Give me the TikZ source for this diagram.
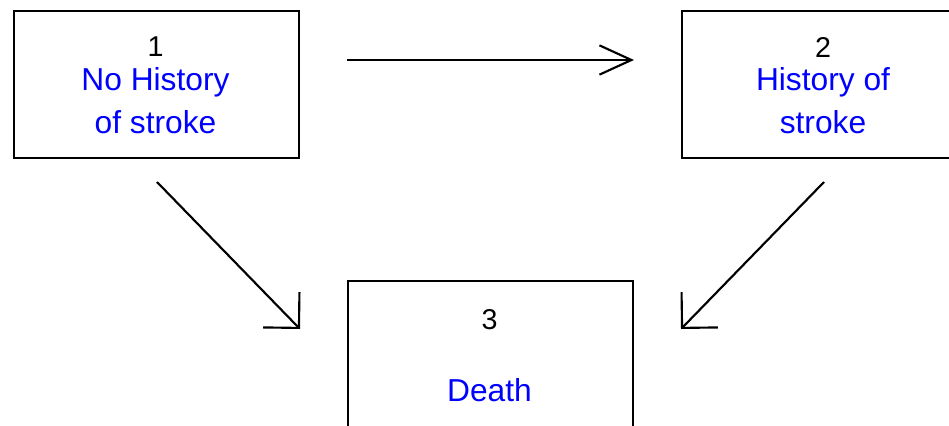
\documentclass[tikz,border=0pt]{standalone}
\usepackage{fontspec}
\setmainfont{Liberation Sans}
\usetikzlibrary{arrows.meta}
\definecolor{txtblue}{RGB}{0,0,255}
\begin{document}
\begin{tikzpicture}[x=0.75pt,y=-0.75pt,
  state/.style={draw=black,line width=1.6pt,minimum width=285*0.75pt,minimum height=147*0.75pt,inner sep=0pt,anchor=north west},
  num/.style={font=\fontsize{21.5pt}{26pt}\selectfont,text=black,inner sep=0pt},
  lbl/.style={font=\fontsize{23.8pt}{28pt}\selectfont,text=txtblue,inner sep=0pt},
  hor/.style={line width=1.6pt,-{Straight Barb[length=24pt,width=22pt,line width=1.6pt]}},
  dia/.style={line width=1.6pt,-{Straight Barb[length=19pt,width=38pt,line width=1.6pt]}}]
\useasboundingbox (0,0) rectangle (949,425);
\begin{scope}
\clip (0,0) rectangle (949,425);
\node[state] (s1) at (13,10) {};
\node[state] (s2) at (681,10) {};
\node[state,minimum height=170*0.75pt] (s3) at (347,280) {};
\end{scope}
\node[num] (n1) at (155.5,47) {1};
\node[lbl] (l1a) at (155.5,82) {No History};
\node[lbl] (l1b) at (155.5,122) {of stroke};
\node[num] (n2) at (823,47) {2};
\node[lbl] (l2a) at (823,82) {History of};
\node[lbl] (l2b) at (823,122) {stroke};
\node[num] (n3) at (489.5,320) {3};
\node[lbl] (l3) at (489.5,390) {Death};
\coordinate (a1s) at (347,60);
\coordinate (a1e) at (634,60);
\coordinate (a2s) at (157,182);
\coordinate (a2e) at (300,329);
\coordinate (a3s) at (824,182);
\coordinate (a3e) at (681,329);
\draw[hor] (a1s) -- (a1e);
\draw[dia] (a2s) -- (a2e);
\draw[dia] (a3s) -- (a3e);
\end{tikzpicture}
\end{document}
